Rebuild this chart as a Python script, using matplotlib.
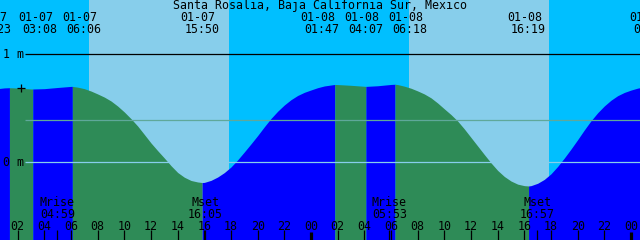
import matplotlib
matplotlib.use("Agg")
import matplotlib.pyplot as plt
from matplotlib.transforms import blended_transform_factory

# ---------------- data ----------------
title = "Santa Rosalia, Baja California Sur, Mexico"

# water level samples (hours since 01-07 00:00, metres)
times = [0, 1, 1.383, 2, 3, 3.133, 4, 5, 6, 6.1, 6.5, 7, 7.5, 8, 8.5, 9, 9.5, 10,
         10.5, 11, 11.5, 12, 12.5, 13, 13.5, 14, 14.5, 15, 15.5, 15.833, 16, 16.5,
         17, 17.5, 18, 18.5, 19, 19.5, 20, 20.5, 21, 21.5, 22, 22.5, 23, 23.5, 24,
         24.5, 25, 25.783, 26, 27, 28, 28.117, 29, 30, 30.3, 30.5, 31, 31.5, 32,
         32.5, 33, 33.5, 34, 34.5, 35, 35.5, 36, 36.5, 37, 37.5, 38, 38.5, 39, 39.5,
         40, 40.317, 40.5, 41, 41.5, 42, 42.5, 43, 43.5, 44, 44.5, 45, 45.5, 46,
         46.5, 47, 47.5, 48, 48.5, 49]
levels = [0.672, 0.686, 0.688, 0.685, 0.676, 0.676, 0.679, 0.690, 0.700, 0.700,
          0.693, 0.679, 0.657, 0.630, 0.601, 0.565, 0.518, 0.463,
          0.401, 0.333, 0.255, 0.176, 0.105, 0.037, -0.034, -0.097, -0.141, -0.171,
          -0.185, -0.190, -0.189, -0.170,
          -0.139, -0.098, -0.046, 0.020, 0.093, 0.168, 0.245, 0.326, 0.403, 0.470,
          0.528, 0.577, 0.616, 0.645, 0.667,
          0.688, 0.704, 0.718, 0.717, 0.710, 0.701, 0.700, 0.706, 0.718, 0.720,
          0.717, 0.702, 0.683, 0.658,
          0.630, 0.594, 0.546, 0.492, 0.439, 0.379, 0.306, 0.227, 0.148, 0.069,
          -0.008, -0.078, -0.134, -0.176, -0.205,
          -0.219, -0.222, -0.219, -0.197, -0.161, -0.109, -0.041, 0.037, 0.120,
          0.207, 0.297, 0.382, 0.456, 0.519,
          0.572, 0.614, 0.644, 0.666, 0.684, 0.696]

# tide events
event_times = [1.383, 3.133, 6.1, 15.833, 25.783, 28.117, 30.3, 40.317, 49.5]
event_types = ["H", "L", "H", "L", "H", "L", "H", "L", "H"]
event_dates = ["01-07", "01-07", "01-07", "01-07", "01-08", "01-08", "01-08", "01-08", "01-09"]
event_clock = ["01:23", "03:08", "06:06", "15:50", "01:47", "04:07", "06:18", "16:19", "01:30"]

# sun
sunrise = [7.35, 31.35]
sunset = [17.85, 41.85]

# moon
moon_times = [4.983, 16.083, 29.883, 40.95]
moon_names = ["Mrise", "Mset", "Mrise", "Mset"]
moon_clock = ["04:59", "16:05", "05:53", "16:57"]

# hour axis labels
hour_ticks = list(range(2, 49, 2))
hour_labels = ["%02d" % (h % 24) for h in hour_ticks]

depth_levels = [1.0, 0.0]
depth_labels = ["1 m", "0 m"]
msl_level = 0.389
mark_level = 0.685

# ---------------- style ----------------
NIGHT = "#00BFFF"
DAY = "#87CEEB"
FLOOD = "#0000FF"
EBB = "#2E8B57"
FONT = dict(family="DejaVu Sans Mono", size=8.4, color="black")
label_nudge_px = [-16, 7, 11, 0, -13, 0, 15, 0, 0]

W, H = 640, 240
fig = plt.figure(figsize=(6.4, 2.4), dpi=100)
fig.patch.set_facecolor(NIGHT)
ax = fig.add_axes([0, 0, 1, 1])
ax.set_axis_off()
x0 = 0.675
x1 = 48.675
ax.set_xlim(x0, x1)
ax.set_ylim(-0.7222, 1.5)

bt = blended_transform_factory(ax.transData, ax.transAxes)
def yf(py):
    return 1 - py / H

# sky
for sr, ss in zip(sunrise, sunset):
    ax.axvspan(sr, ss, color=DAY, lw=0, zorder=0)

# water, colored by rising/falling between events
bounds = [times[0]] + event_times + [times[-1] + 1]
for i in range(len(bounds) - 1):
    ta, tb = bounds[i], bounds[i + 1]
    seg = [(t, v) for t, v in zip(times, levels) if ta <= t <= tb]
    if len(seg) < 2:
        continue
    nxt = event_types[i] if i < len(event_types) else "H"
    col = FLOOD if nxt == "H" else EBB
    ts = [s[0] for s in seg]
    vs = [s[1] for s in seg]
    ax.fill_between(ts, vs, -1, color=col, lw=0, zorder=1, antialiased=False)

# reference lines
xs = x0 + 25 / W * (x1 - x0)
ax.hlines(depth_levels[0], xs, x1, color="black", lw=0.9, zorder=3)
ax.hlines(depth_levels[1], xs, x1, color=DAY, lw=0.9, zorder=3)
ax.hlines(msl_level, xs, x1, color="#5FA89A", lw=0.9, zorder=3)
ax.plot([x0 + 21 / W * (x1 - x0)], [mark_level], marker="+", ms=6, mew=0.9,
        color="black", zorder=4)

for lv, lb in zip(depth_levels, depth_labels):
    py = 162 - lv * 108
    ax.text(3 / W, yf(py + 4), lb, transform=ax.transAxes, ha="left",
            va="baseline", **FONT)

# title
ax.text(0.5, yf(9.5), title, transform=ax.transAxes, ha="center", va="baseline", **FONT)

# event labels
for t, d, c, dx in zip(event_times, event_dates, event_clock, label_nudge_px):
    ax.annotate(d, xy=(t, yf(21)), xycoords=bt, xytext=(dx - 4, 0),
                textcoords="offset pixels", ha="center", va="baseline", **FONT)
    ax.annotate(c, xy=(t, yf(33)), xycoords=bt, xytext=(dx, 0),
                textcoords="offset pixels", ha="center", va="baseline", **FONT)

# moon labels
for t, n, c in zip(moon_times, moon_names, moon_clock):
    ax.text(t, yf(206), n, transform=bt, ha="center", va="baseline", **FONT)
    ax.text(t, yf(217.5), c, transform=bt, ha="center", va="baseline", **FONT)
    ax.vlines(t, yf(240), yf(230), color="black", lw=0.9, transform=bt, zorder=5)

# hour ticks and labels
for h, lb in zip(hour_ticks, hour_labels):
    midnight = (h % 24 == 0)
    ax.vlines(h, yf(240), yf(232 if midnight else 230), color="black",
              lw=2.3 if midnight else 0.9, transform=bt, zorder=5)
    ax.text(h, yf(230), lb, transform=bt, ha="center", va="baseline", **FONT)

fig.savefig("out.png", dpi=100, facecolor=NIGHT)
